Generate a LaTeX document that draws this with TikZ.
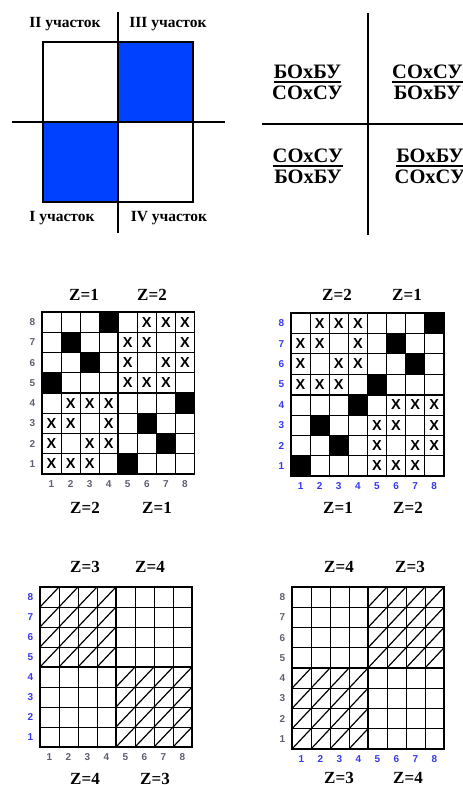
\documentclass[tikz,border=0pt]{standalone}
\usepackage{fontspec}
\setmainfont{Liberation Serif}
\setsansfont{Liberation Sans}
\definecolor{qblue}{RGB}{0,64,255}
\definecolor{lblgray}{RGB}{95,95,115}
\definecolor{lblblue}{RGB}{55,55,245}
\tikzset{
  plot/.style={font=\bfseries\fontsize{15.5}{15.5}\selectfont, inner sep=0pt},
  frac/.style={font=\bfseries\fontsize{20.5}{20.5}\selectfont, inner sep=0pt},
  zlab/.style={font=\bfseries\fontsize{17}{17}\selectfont, inner sep=0pt},
  num/.style={font=\sffamily\bfseries\fontsize{10}{10}\selectfont, inner sep=0pt},
  xmark/.style={font=\sffamily\bfseries\fontsize{14.5}{14.5}\selectfont, inner sep=0pt},
  thin grid/.style={line width=0.9pt},
  thick grid/.style={line width=1.8pt},
  blk/.style={fill=black},
}
\newcommand\gridlines{%
  \foreach \i in {1,...,7} {
    \draw[thin grid] (\i,0) -- (\i,8);
    \draw[thin grid] (0,\i) -- (8,\i);
  }
  \draw[thick grid] (4,0) -- (4,8);
  \draw[thick grid] (0,4) -- (8,4);
  \draw[thick grid] (0,0) rectangle (8,8);
}
\newcommand\gridnums[3]{% #1 name, #2 row colour, #3 col colour
  \foreach \k in {1,...,8} {
    \node[num,text=#2] (#1r\k) at (-0.5,8.5-\k) {\k};
    \node[num,text=#3] (#1c\k) at (\k-0.5,8.5) {\k};
  }
}
% black cell: col,row
\newcommand\bcell[2]{\fill (#1-1,8-#2) rectangle (#1,9-#2);}
\newcommand\xcell[3]{\node[xmark] (#1x#2y#3) at (#2-0.5,8.5-#3) {X};}
\newcommand\hatch[2]{% quadrant: first col, first row index from top
  \foreach \a in {0,...,3} {
    \foreach \b in {0,...,3} {
      \draw[line width=1.2pt] (#1+\a,#2+\b+1) -- (#1+\a+1,#2+\b);
    }
  }
}
\begin{document}
\begin{tikzpicture}[x=1pt,y=-1pt]
\useasboundingbox (0,0) rectangle (463,785);
% ---------- top left plots ----------
\fill[qblue] (118,42) rectangle (193,122);
\fill[qblue] (43,122) rectangle (118,202);
\draw[line width=1.3pt] (43,42) rectangle (193,202);
\coordinate (hl) at (12,122);
\coordinate (hr) at (225,122);
\coordinate (vt) at (118,12);
\coordinate (vb) at (118,233);
\draw[line width=1.3pt] (hl) -- (hr);
\draw[line width=1.3pt] (vt) -- (vb);
\node[plot] (p2) at (65,24) {II участок};
\node[plot] (p3) at (168,24) {III участок};
\node[plot] (p1) at (62,218) {I участок};
\node[plot] (p4) at (169,218) {IV участок};
% ---------- top right fractions ----------
\coordinate (fvt) at (368,13);
\coordinate (fvb) at (368,235);
\coordinate (fhl) at (262,124);
\coordinate (fhr) at (463,124);
\draw[line width=1.3pt] (fvt) -- (fvb);
\draw[line width=1.3pt] (fhl) -- (fhr);
\newcommand\fracnode[5]{%
  \node[frac] (#1n) at (#2,#3-10) {#4};
  \node[frac] (#1d) at (#2,#3+11) {#5};
  \draw[line width=1.2pt] (#1n.west|-0,#3) -- (#1n.east|-0,#3);
}
\fracnode{fa}{307.5}{82}{БОхБУ}{СОхСУ}
\fracnode{fb}{427.5}{82}{СОхСУ}{БОхБУ}
\fracnode{fc}{308}{166}{СОхСУ}{БОхБУ}
\fracnode{fd}{430}{166}{БОхБУ}{СОхСУ}
% ---------- grid 1 ----------
\begin{scope}[shift={(42,312)}, x=19.06pt, y=-20.25pt]
  \bcell{4}{8}\bcell{2}{7}\bcell{3}{6}\bcell{1}{5}
  \bcell{8}{4}\bcell{6}{3}\bcell{7}{2}\bcell{5}{1}
  \gridlines
  \gridnums{ga}{lblgray}{lblgray}
  \xcell{ga}{6}{8}\xcell{ga}{7}{8}\xcell{ga}{8}{8}
  \xcell{ga}{5}{7}\xcell{ga}{6}{7}\xcell{ga}{8}{7}
  \xcell{ga}{5}{6}\xcell{ga}{7}{6}\xcell{ga}{8}{6}
  \xcell{ga}{5}{5}\xcell{ga}{6}{5}\xcell{ga}{7}{5}
  \xcell{ga}{2}{4}\xcell{ga}{3}{4}\xcell{ga}{4}{4}
  \xcell{ga}{1}{3}\xcell{ga}{2}{3}\xcell{ga}{4}{3}
  \xcell{ga}{1}{2}\xcell{ga}{3}{2}\xcell{ga}{4}{2}
  \xcell{ga}{1}{1}\xcell{ga}{2}{1}\xcell{ga}{3}{1}
\end{scope}
\node[zlab] (ga1) at (84,295) {Z=1};
\node[zlab] (ga2) at (152,295) {Z=2};
\node[zlab] (ga3) at (85,508) {Z=2};
\node[zlab] (ga4) at (157,508) {Z=1};
% ---------- grid 2 ----------
\begin{scope}[shift={(291,313)}, x=19.1pt, y=-20.4pt]
  \bcell{8}{8}\bcell{6}{7}\bcell{7}{6}\bcell{5}{5}
  \bcell{4}{4}\bcell{2}{3}\bcell{3}{2}\bcell{1}{1}
  \gridlines
  \gridnums{gb}{lblblue}{lblblue}
  \xcell{gb}{2}{8}\xcell{gb}{3}{8}\xcell{gb}{4}{8}
  \xcell{gb}{1}{7}\xcell{gb}{2}{7}\xcell{gb}{4}{7}
  \xcell{gb}{1}{6}\xcell{gb}{3}{6}\xcell{gb}{4}{6}
  \xcell{gb}{1}{5}\xcell{gb}{2}{5}\xcell{gb}{3}{5}
  \xcell{gb}{6}{4}\xcell{gb}{7}{4}\xcell{gb}{8}{4}
  \xcell{gb}{5}{3}\xcell{gb}{6}{3}\xcell{gb}{8}{3}
  \xcell{gb}{5}{2}\xcell{gb}{7}{2}\xcell{gb}{8}{2}
  \xcell{gb}{5}{1}\xcell{gb}{6}{1}\xcell{gb}{7}{1}
\end{scope}
\node[zlab] (gb1) at (337,295) {Z=2};
\node[zlab] (gb2) at (407,295) {Z=1};
\node[zlab] (gb3) at (338,508) {Z=1};
\node[zlab] (gb4) at (408,508) {Z=2};
% ---------- grid 3 ----------
\begin{scope}[shift={(40,587)}, x=19pt, y=-20pt]
  \hatch{0}{0}
  \hatch{4}{4}
  \gridlines
  \gridnums{gc}{lblblue}{lblgray}
\end{scope}
\node[zlab] (gc1) at (85,567) {Z=3};
\node[zlab] (gc2) at (150,567) {Z=4};
\node[zlab] (gc3) at (85,779) {Z=4};
\node[zlab] (gc4) at (155,779) {Z=3};
% ---------- grid 4 ----------
\begin{scope}[shift={(292,587)}, x=19pt, y=-20.25pt]
  \hatch{4}{0}
  \hatch{0}{4}
  \gridlines
  \gridnums{gd}{lblgray}{lblblue}
\end{scope}
\node[zlab] (gd1) at (339,567) {Z=4};
\node[zlab] (gd2) at (410,567) {Z=3};
\node[zlab] (gd3) at (339,778) {Z=3};
\node[zlab] (gd4) at (408,778) {Z=4};
\end{tikzpicture}
\end{document}
